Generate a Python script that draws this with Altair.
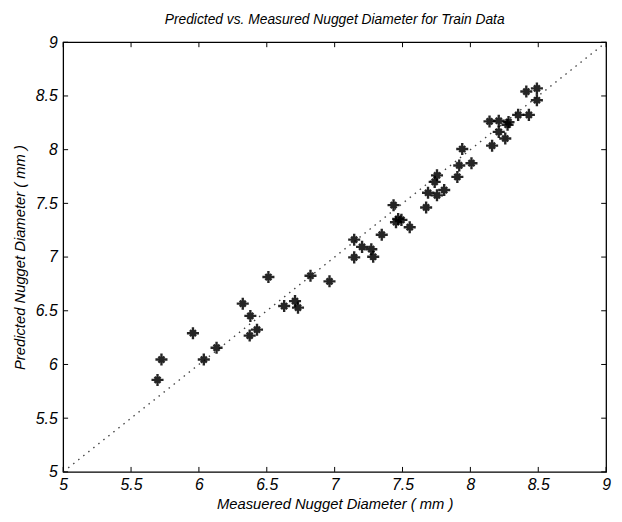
import altair as alt
import pandas as pd

measured = [5.695, 5.724, 5.956, 6.036, 6.130, 6.323, 6.379, 6.374, 6.428, 6.512,
            6.628, 6.708, 6.730, 6.822, 6.962, 7.144, 7.144, 7.202, 7.270, 7.284,
            7.347, 7.434, 7.468, 7.452, 7.492, 7.553, 7.674, 7.688, 7.754, 7.807,
            7.737, 7.754, 7.904, 7.918, 8.008, 7.940, 8.160, 8.141, 8.209, 8.281,
            8.274, 8.209, 8.257, 8.352, 8.431, 8.412, 8.490, 8.490]
predicted = [5.856, 6.046, 6.291, 6.046, 6.156, 6.566, 6.452, 6.269, 6.324, 6.814,
             6.544, 6.590, 6.529, 6.826, 6.774, 7.162, 6.997, 7.095, 7.073, 7.003,
             7.208, 7.483, 7.355, 7.324, 7.346, 7.278, 7.462, 7.599, 7.575, 7.624,
             7.700, 7.761, 7.746, 7.853, 7.874, 8.006, 8.037, 8.263, 8.269, 8.257,
             8.232, 8.165, 8.104, 8.324, 8.324, 8.541, 8.570, 8.460]
ticks = [5, 5.5, 6, 6.5, 7, 7.5, 8, 8.5, 9]
diag = [5, 9]

FONT = "Liberation Sans"
W, H = 551, 436

pts = pd.DataFrame({"m": measured, "p": predicted})
line_df = pd.DataFrame({"m": diag, "p": diag})
tick_df = pd.DataFrame({"t": ticks})

xs = alt.Scale(domain=[5, 9], nice=False, zero=False)
ys = alt.Scale(domain=[5, 9], nice=False, zero=False)

xaxis = alt.Axis(values=ticks, format="~g", grid=False, tickSize=0, domain=False,
                 labelFont=FONT, labelFontSize=16, labelFontStyle="italic", labelColor="black",
                 labelPadding=5, title="Measuered Nugget Diameter ( mm )", titleFont=FONT,
                 titleFontSize=15, titleFontStyle="italic", titleFontWeight="normal",
                 titleColor="black", titlePadding=4, labelFlush=False)
yaxis = alt.Axis(values=ticks, format="~g", grid=False, tickSize=0, domain=False,
                 labelFont=FONT, labelFontSize=16, labelFontStyle="italic", labelColor="black",
                 labelPadding=6, title="Predicted Nugget Diameter ( mm )", titleFont=FONT,
                 titleFontSize=15, titleFontStyle="italic", titleFontWeight="normal",
                 titleColor="black", titlePadding=8, labelFlush=False)

diag_line = alt.Chart(line_df).mark_line(color="#444444", strokeDash=[1.5, 5], strokeWidth=1.4).encode(
    x=alt.X("m:Q", scale=xs, axis=xaxis),
    y=alt.Y("p:Q", scale=ys, axis=yaxis),
)

star = "M-1,0L1,0M0,-1L0,1M-0.5,-0.5L0.5,0.5M-0.5,0.5L0.5,-0.5"
points = alt.Chart(pts).mark_point(shape=star, size=150, stroke="black", strokeWidth=2.4,
                                   filled=False, opacity=0.85).encode(
    x=alt.X("m:Q", scale=xs), y=alt.Y("p:Q", scale=ys))

tk = 5
bottom_ticks = alt.Chart(tick_df).mark_rule(color="black").encode(
    x=alt.X("t:Q", scale=xs), y=alt.value(H), y2=alt.value(H - tk))
top_ticks = alt.Chart(tick_df).mark_rule(color="black").encode(
    x=alt.X("t:Q", scale=xs), y=alt.value(0), y2=alt.value(tk))
left_ticks = alt.Chart(tick_df).mark_rule(color="black").encode(
    y=alt.Y("t:Q", scale=ys), x=alt.value(0), x2=alt.value(tk))
right_ticks = alt.Chart(tick_df).mark_rule(color="black").encode(
    y=alt.Y("t:Q", scale=ys), x=alt.value(W), x2=alt.value(W - tk))

chart = alt.layer(diag_line, bottom_ticks, top_ticks, left_ticks, right_ticks, points).properties(
    width=W, height=H,
    title=alt.Title("Predicted vs. Measured Nugget Diameter for Train Data", font=FONT,
                    fontSize=14, fontStyle="italic", fontWeight="normal", color="black",
                    offset=8, anchor="middle"),
    autosize=alt.AutoSizeParams(type="none"),
    padding={"left": 56, "top": 31, "right": 8, "bottom": 40},
).configure(background="white").configure_view(stroke="black", strokeWidth=1.3)

chart.save("out.html", embed_options={"renderer": "svg", "actions": False})
